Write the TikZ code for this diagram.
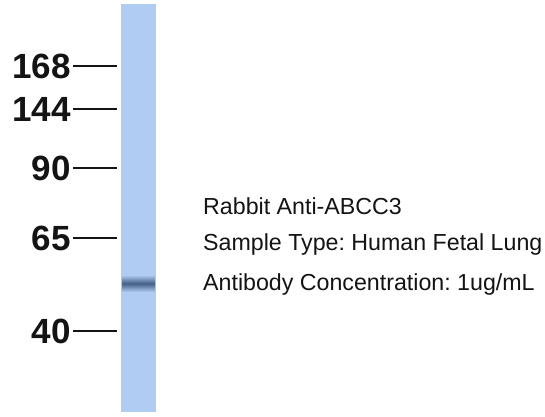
\documentclass[tikz,border=0pt]{standalone}
\usepackage{fontspec}
\setmainfont{Liberation Sans}
\frenchspacing
\definecolor{lane}{RGB}{176,204,242}
\definecolor{bandc}{RGB}{68,96,134}
\definecolor{ink}{RGB}{20,20,20}
\tikzset{
  mw/.style={anchor=east, inner sep=0pt, font=\fontsize{35}{35}\bfseries\selectfont, text=ink},
  tick/.style={line width=2pt, draw=ink},
  info/.style={anchor=west, inner sep=0pt, font=\fontsize{23.2}{23.2}\selectfont, text=ink}
}
\begin{document}
\begin{tikzpicture}[x=1pt,y=-1pt]
\useasboundingbox[fill=white] (0,0) rectangle (545,416);
% lane
\fill[lane] (121,4) rectangle (156,412);
\shade[top color=lane, bottom color=lane, middle color=bandc] (122,275) rectangle (155,292);
% markers
\foreach \lab/\y in {168/66,144/109,90/168,65/238,40/331}{
  \node[mw] (m\lab) at (71,\y) {\lab};
  \coordinate (e\lab) at (117,\y);
  \draw[tick] (m\lab.east) ++(2,0) -- (e\lab);
}
% info text
\node[info] (t1) at (203,206) {Rabbit Anti-ABCC3};
\node[info] (t2) at (203,244) {Sample Type: Human Fetal Lung};
\node[info] (t3) at (203,284) {Antibody Concentration: 1ug/mL};
\end{tikzpicture}
\end{document}
